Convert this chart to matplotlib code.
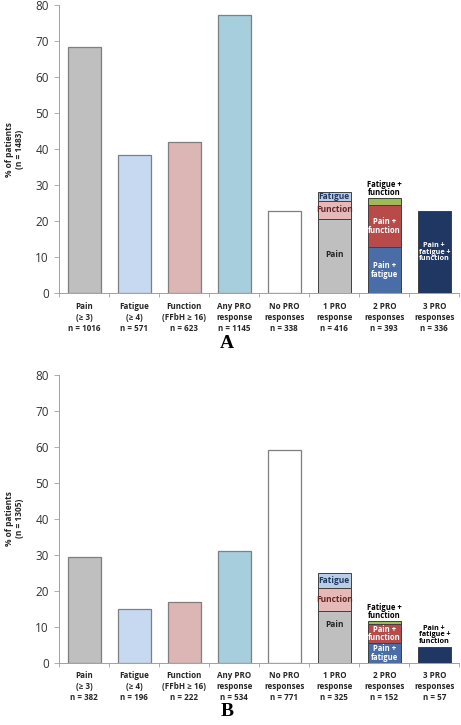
import matplotlib
matplotlib.use("Agg")
import matplotlib.pyplot as plt
import numpy as np

plt.rcParams['font.family'] = ['Open Sans', 'DejaVu Sans']

categories = ["Pain\n(≥ 3)", "Fatigue\n(≥ 4)", "Function\n(FFbH ≥ 16)", "Any PRO\nresponse",
              "No PRO\nresponses", "1 PRO\nresponse", "2 PRO\nresponses", "3 PRO\nresponses"]

# Panel A
n_A = [1016, 571, 623, 1145, 338, 416, 393, 336]
single_A = [68.5, 38.5, 42.0, 77.2, 22.8]
one_pro_A = [20.7, 4.8, 2.5]          # pain, function, fatigue
two_pro_A = [12.7, 11.9, 1.7]         # pain+fatigue, pain+function, fatigue+function
three_pro_A = [22.7]
total_A = 1483

# Panel B
n_B = [382, 196, 222, 534, 771, 325, 152, 57]
single_B = [29.3, 15.0, 17.0, 30.9, 59.1]
one_pro_B = [14.3, 6.4, 4.2]
two_pro_B = [5.4, 5.3, 0.8]
three_pro_B = [4.4]
total_B = 1305

single_colors = ["#BFBFBF", "#C6D9F1", "#DBB6B5", "#A6CEDC", "#FFFFFF"]
one_colors = ["#BFBFBF", "#E6B9B8", "#B9CDE5"]
two_colors = ["#4A6DA7", "#B84A4A", "#9BBB59"]
three_color = "#203764"

fig = plt.figure(figsize=(4.61, 7.25), dpi=100)

def draw(ax_rect, single, one, two, three, nvals, total, letter, letter_y, panel):
    ax = fig.add_axes(ax_rect)
    x = np.arange(8)
    w = 0.667
    ec = "#7F7F7F"
    ax.bar(x[:5], single, width=w, color=single_colors, edgecolor=ec, linewidth=0.9, zorder=3)
    # 1 PRO
    bottom = 0
    for v, c in zip(one, one_colors):
        ax.bar(x[5], v, bottom=bottom, width=w, color=c, edgecolor="#404040", linewidth=0.7, zorder=3)
        bottom += v
    one_tops = np.cumsum(one)
    # 2 PRO
    bottom = 0
    for v, c in zip(two, two_colors):
        ax.bar(x[6], v, bottom=bottom, width=w, color=c, edgecolor="#404040", linewidth=0.7, zorder=3)
        bottom += v
    two_tops = np.cumsum(two)
    ax.bar(x[7], three[0], width=w, color=three_color, edgecolor="#404040", linewidth=0.7, zorder=3)

    fs1 = 6.0
    fs = 5.5
    fs3 = 5.2
    # 1 PRO labels
    ax.text(x[5], 10.7, "Pain", ha="center", va="center", fontsize=fs1, fontweight="bold", color="#262626", zorder=4)
    ax.text(x[5], (one_tops[0] + one_tops[1]) / 2, "Function", ha="center", va="center",
            fontsize=fs1, fontweight="bold", color="#632523", zorder=4)
    ax.text(x[5], (one_tops[1] + one_tops[2]) / 2, "Fatigue", ha="center", va="center",
            fontsize=fs1, fontweight="bold", color="#1F3864", zorder=4)
    # 2 PRO labels
    ax.text(x[6], two_tops[0] / 2, "Pain +\nfatigue", ha="center", va="center",
            fontsize=fs, fontweight="bold", color="white", linespacing=0.9, zorder=4)
    ax.text(x[6], (two_tops[0] + two_tops[1]) / 2, "Pain +\nfunction", ha="center", va="center",
            fontsize=fs, fontweight="bold", color="white", linespacing=0.9, zorder=4)
    ax.text(x[6], two_tops[2] + 0.4, "Fatigue +\nfunction", ha="center", va="bottom",
            fontsize=fs, fontweight="bold", color="black", linespacing=0.9, zorder=4)
    # 3 PRO label
    if panel == "A":
        ax.text(x[7], three[0] / 2, "Pain +\nfatigue +\nfunction", ha="center", va="center",
                fontsize=fs3, fontweight="bold", color="white", linespacing=0.9, zorder=4)
    else:
        ax.text(x[7], three[0] + 0.6, "Pain +\nfatigue +\nfunction", ha="center", va="bottom",
                fontsize=fs3, fontweight="bold", color="black", linespacing=0.9, zorder=4)

    ax.set_xlim(-0.5, 7.5)
    ax.set_ylim(0, 80)
    ax.set_yticks(np.arange(0, 81, 10))
    ax.set_xticks(np.arange(-0.5, 8, 1))
    ax.set_xticklabels([])
    ax.tick_params(axis="y", labelsize=8.5, colors="#333333", length=3.5, width=0.6, pad=4)
    ax.tick_params(axis="y", color="#A0A0A0")
    ax.tick_params(axis="x", length=3, width=0.6, color="#A0A0A0")
    for s in ["top", "right"]:
        ax.spines[s].set_visible(False)
    for s in ["left", "bottom"]:
        ax.spines[s].set_color("#A0A0A0")
        ax.spines[s].set_linewidth(0.7)
    ax.set_ylabel(f"% of patients\n(n = {total})", fontsize=6.0, fontweight="bold",
                  color="#262626", labelpad=8, linespacing=1.15)
    for i in range(8):
        ax.text(x[i], -2.4, categories[i] + f"\nn = {nvals[i]}", ha="center", va="top",
                fontsize=5.8, fontweight="bold", color="#262626", linespacing=1.28,
                transform=ax.transData, clip_on=False)
    fig.text(0.493, letter_y, letter, ha="center", va="center", fontsize=14,
             fontweight="bold", family="Liberation Serif")
    return ax

draw([0.1286, 0.5959, 0.8677, 0.3968], single_A, one_pro_A, two_pro_A, three_pro_A,
     n_A, total_A, "A", 1 - 344 / 725, "A")
draw([0.1286, 0.0859, 0.8677, 0.3973], single_B, one_pro_B, two_pro_B, three_pro_B,
     n_B, total_B, "B", 1 - 711 / 725, "B")

fig.savefig("out.png", dpi=100)
